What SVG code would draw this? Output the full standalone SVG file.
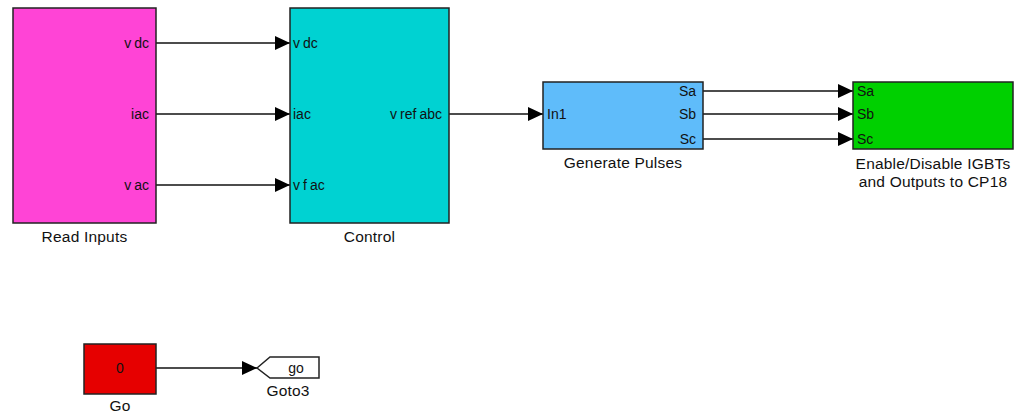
<svg xmlns="http://www.w3.org/2000/svg" width="1017" height="416" viewBox="0 0 1017 416">
<defs>
<style>
.blk{stroke:#222;stroke-width:1.5}
.lbl{font-family:"Liberation Sans",Arial,sans-serif;font-size:15.5px;fill:#111;text-anchor:middle;letter-spacing:0.2px}
.prt{font-family:"Liberation Sans",Arial,sans-serif;font-size:14px;fill:#111}
.end{text-anchor:end}
.ln{stroke:#111;stroke-width:1.5;fill:none;marker-end:url(#ah)}
</style>
<marker id="ah" markerUnits="userSpaceOnUse" markerWidth="15" markerHeight="14" refX="15" refY="7" orient="auto">
<path d="M0,0 L15,7 L0,14 z" fill="#000"/>
</marker>
</defs>
<rect width="1017" height="416" fill="#fff"/>
<g id="connectors">
<line class="ln" x1="156" y1="43" x2="290" y2="43"/>
<line class="ln" x1="156" y1="114" x2="290" y2="114"/>
<line class="ln" x1="156" y1="185" x2="290" y2="185"/>
<line class="ln" x1="449" y1="114" x2="543" y2="114"/>
<line class="ln" x1="703" y1="91" x2="853" y2="91"/>
<line class="ln" x1="703" y1="114" x2="853" y2="114"/>
<line class="ln" x1="703" y1="139" x2="853" y2="139"/>
<line class="ln" x1="156" y1="368" x2="257" y2="368"/>
</g>
<g id="read-inputs">
<rect class="blk" x="13" y="8" width="143" height="215" fill="#FF44D6"/>
<text class="prt end" x="149" y="48">v<tspan dx="3">dc</tspan></text>
<text class="prt end" x="149" y="119">iac</text>
<text class="prt end" x="149" y="190">v<tspan dx="3">ac</tspan></text>
<text class="lbl" x="84.5" y="242">Read Inputs</text>
</g>
<g id="control">
<rect class="blk" x="290" y="8" width="159" height="215" fill="#00D2D2"/>
<text class="prt" x="293" y="48">v<tspan dx="3">dc</tspan></text>
<text class="prt" x="293" y="119">iac</text>
<text class="prt" x="293" y="190">v<tspan dx="3">f</tspan><tspan dx="3">ac</tspan></text>
<text class="prt end" x="442" y="119">v<tspan dx="3">ref</tspan><tspan dx="3">abc</tspan></text>
<text class="lbl" x="369.5" y="242">Control</text>
</g>
<g id="generate-pulses">
<rect class="blk" x="543" y="82" width="160" height="67" fill="#5FBCFA"/>
<text class="prt" x="547" y="119">In1</text>
<text class="prt end" x="696" y="96">Sa</text>
<text class="prt end" x="696" y="119">Sb</text>
<text class="prt end" x="696" y="144">Sc</text>
<text class="lbl" x="623" y="168">Generate Pulses</text>
</g>
<g id="enable-disable">
<rect class="blk" x="853" y="82" width="160" height="67" fill="#00D000"/>
<text class="prt" x="857" y="96">Sa</text>
<text class="prt" x="857" y="119">Sb</text>
<text class="prt" x="857" y="144">Sc</text>
<text class="lbl" x="933" y="169">Enable/Disable IGBTs</text>
<text class="lbl" x="933" y="187">and Outputs to CP18</text>
</g>
<g id="go">
<rect class="blk" x="84" y="344" width="72" height="50" fill="#E60000"/>
<text class="prt" x="120" y="373" text-anchor="middle">0</text>
<text class="lbl" x="120" y="411">Go</text>
</g>
<g id="goto3">
<polygon class="blk" points="257,368 270,357 319,357 319,378 270,378" fill="#fff" stroke-width="1.2"/>
<text class="prt" x="296" y="373" text-anchor="middle">go</text>
<text class="lbl" x="288" y="396">Goto3</text>
</g>
</svg>
